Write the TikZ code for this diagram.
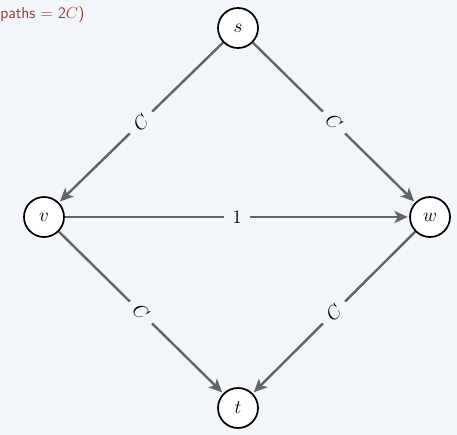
\documentclass[tikz,border=0pt]{standalone}
\usepackage{amsmath}
\usepackage{tikz}
\usetikzlibrary{arrows.meta,positioning}
\usepackage{xcolor}
\definecolor{ink}{HTML}{000000}
\definecolor{edgegray}{HTML}{646464}
\definecolor{paper}{HTML}{F2F5F9}
\definecolor{brick}{HTML}{8E3A30}
\tikzset{vertex/.style={circle,draw=ink,fill=white,line width=1.3pt,minimum size=30pt,inner sep=0pt,font=\Large},capedge/.style={draw=edgegray,line width=1.8pt,-{Stealth[length=10pt,width=9pt,inset=2.5pt]},shorten >=1pt},caplabel/.style={fill=paper,inner sep=6pt,font=\Large,midway,sloped}}

\begin{document}
\begin{tikzpicture}[x=.75pt,y=-.75pt]
\fill[paper] (0,0) rectangle (457,435);
\useasboundingbox (0,0) rectangle (457,435);
\node[anchor=base west,text=brick,font=\sffamily\large,inner sep=0pt] (note) at (0,19) {paths = 2$C$)};
\node[vertex] (s) at (238,28) {$s$};
\node[vertex] (v) at (44,217) {$v$};
\node[vertex] (w) at (430,217) {$w$};
\node[vertex] (t) at (238,408) {$t$};
\draw[capedge] (s) -- node[caplabel] {$C$} (v);
\draw[capedge] (s) -- node[caplabel] {$C$} (w);
\draw[capedge] (v) -- node[caplabel] {$1$} (w);
\draw[capedge] (v) -- node[caplabel] {$C$} (t);
\draw[capedge] (w) -- node[caplabel] {$C$} (t);
\end{tikzpicture}
\end{document}
